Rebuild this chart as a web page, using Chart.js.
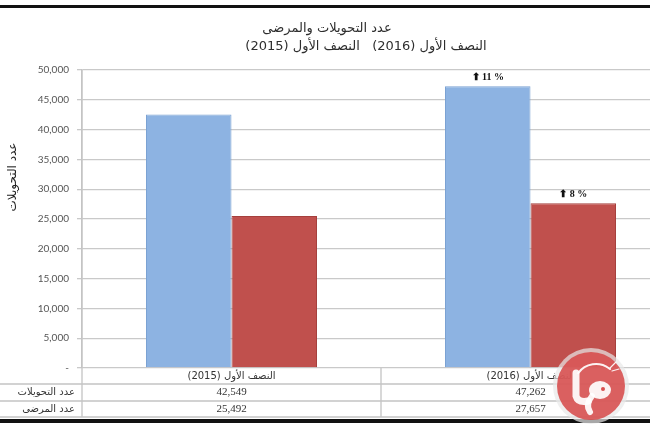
<!DOCTYPE html>
<html>
<head>
<meta charset="utf-8">
<script src="https://cdn.jsdelivr.net/npm/chart.js@4/dist/chart.umd.min.js"></script>
<style>
  html, body { margin: 0; padding: 0; background: #fff; overflow: hidden; }
  #wrap { width: 700px; height: 433px; }
</style>
</head>
<body>
<div id="wrap"><canvas id="myChart"></canvas></div>
<script>
const categories = ["النصف الأول (2015)", "النصف الأول (2016)"];
const seriesNames = ["عدد التحويلات", "عدد المرضى"];
const transfers = [42549, 47262];
const patients = [25492, 27657];
const transferGrowth = ["", "11 %"];
const patientGrowth = ["", "8 %"];
const chartTitle = "عدد التحويلات والمرضى";
const chartSubtitle = "النصف الأول (2016)   النصف الأول (2015)";
const yAxisTitle = "عدد التحويلات";

const arabicFont = '"DejaVu Sans", sans-serif';

// titles, data table, growth marks, frame and logo
const decor = {
  id: "decor",
  beforeDraw(chart) {
    const c = chart.ctx;
    c.save();
    c.fillStyle = "#fff";
    c.fillRect(0, 0, chart.width, chart.height);
    c.restore();
  },
  afterDraw(chart) {
    const c = chart.ctx;
    const area = chart.chartArea;
    const xs = chart.scales.x;
    c.save();

    // titles
    c.direction = "rtl";
    c.textAlign = "center";
    c.textBaseline = "middle";
    c.fillStyle = "#2e2e2e";
    c.font = "13px " + arabicFont;
    c.fillText(chartTitle, 327, 29);
    c.font = "13px " + arabicFont;
    c.fillText(chartSubtitle, 366, 47);

    // y axis title
    c.save();
    c.translate(13, 177);
    c.rotate(-Math.PI / 2);
    c.font = "12px " + arabicFont;
    c.fillStyle = "#222";
    c.fillText(yAxisTitle, 0, 0);
    c.restore();

    // data table
    const rowTop = area.bottom;
    const rows = [rowTop, rowTop + 16, rowTop + 33, rowTop + 49];
    const mid = (xs.getPixelForValue(0) + xs.getPixelForValue(1)) / 2;
    c.strokeStyle = "#c4c4c4";
    c.lineWidth = 1.3;
    c.beginPath();
    c.moveTo(area.left, area.top);
    c.lineTo(area.left, rows[3]);
    c.moveTo(mid, rows[0]);
    c.lineTo(mid, rows[3]);
    for (let i = 1; i < rows.length; i++) {
      c.moveTo(0, rows[i]);
      c.lineTo(chart.width, rows[i]);
    }
    c.stroke();

    c.fillStyle = "#333";
    c.font = "10px " + arabicFont;
    categories.forEach((cat, i) => {
      c.fillText(cat, xs.getPixelForValue(i), (rows[0] + rows[1]) / 2);
    });
    const tableSeries = [transfers, patients];
    tableSeries.forEach((vals, r) => {
      const y = (rows[r + 1] + rows[r + 2]) / 2;
      c.textAlign = "right";
      c.font = "10px " + arabicFont;
      c.fillText(seriesNames[r], area.left - 7, y);
      c.textAlign = "center";
      c.font = '11px "Liberation Serif", serif';
      vals.forEach((v, i) => {
        c.fillText(v.toLocaleString("en-US"), xs.getPixelForValue(i), y);
      });
    });

    // growth marks above bars
    c.direction = "ltr";
    c.fillStyle = "#111";
    [transferGrowth, patientGrowth].forEach((marks, d) => {
      const meta = chart.getDatasetMeta(d);
      marks.forEach((m, i) => {
        if (!m) return;
        const bar = meta.data[i];
        c.font = 'bold 10px "Liberation Serif", serif';
        c.fillText("⬆ " + m, bar.x, bar.y - 9);
      });
    });

    // frame lines
    c.fillStyle = "#111";
    c.fillRect(0, 5, chart.width, 3);
    c.fillRect(0, 419, chart.width, 4);

    // logo watermark
    c.beginPath();
    c.arc(591, 386, 38, 0, Math.PI * 2);
    c.fillStyle = "rgba(232,232,232,0.7)";
    c.fill();
    c.beginPath();
    c.arc(591, 386, 34, 0, Math.PI * 2);
    c.fillStyle = "rgba(214,70,70,0.85)";
    c.fill();
    c.strokeStyle = "rgba(255,255,255,0.92)";
    c.fillStyle = "rgba(255,255,255,0.92)";
    c.lineCap = "round";
    c.lineWidth = 7;
    c.beginPath();
    c.moveTo(576, 373);
    c.lineTo(576, 396);
    c.quadraticCurveTo(578, 403, 588, 401);
    c.stroke();
    c.beginPath();
    c.ellipse(600, 390, 11, 9, 0, 0, Math.PI * 2);
    c.fill();
    c.lineWidth = 6;
    c.beginPath();
    c.moveTo(592, 396);
    c.quadraticCurveTo(585, 405, 590, 412);
    c.stroke();
    c.fillStyle = "rgba(214,70,70,0.95)";
    c.beginPath();
    c.arc(603, 389, 2, 0, Math.PI * 2);
    c.fill();
    c.lineWidth = 2;
    c.beginPath();
    c.arc(596, 386, 22, Math.PI * 1.2, Math.PI * 1.72);
    c.stroke();
    c.lineWidth = 1.2;
    c.beginPath();
    c.moveTo(610, 368);
    c.lineTo(616, 362);
    c.moveTo(612, 371);
    c.lineTo(619, 369);
    c.stroke();

    c.restore();
  },
};

const ctx = document.getElementById("myChart").getContext("2d");
const myChart = new Chart(ctx, {
  type: "bar",
  data: {
    labels: categories,
    datasets: [
      {
        label: seriesNames[0],
        data: transfers,
        backgroundColor: "#8db3e2",
        borderColor: "#7ba2d3",
        borderWidth: 1,
      },
      {
        label: seriesNames[1],
        data: patients,
        backgroundColor: "#c0504d",
        borderColor: "#a5403d",
        borderWidth: 1,
      },
    ],
  },
  options: {
    responsive: true,
    maintainAspectRatio: false,
    animation: false,
    layout: { padding: { top: 70, bottom: 65, left: 0, right: 20 } },
    datasets: { bar: { categoryPercentage: 0.572, barPercentage: 1 } },
    plugins: { legend: { display: false }, tooltip: { enabled: false } },
    scales: {
      x: {
        grid: { display: false },
        border: { display: false },
        ticks: { display: false },
        afterFit: (scale) => { scale.height = 0; },
      },
      y: {
        min: 0,
        max: 50000,
        ticks: {
          stepSize: 5000,
          padding: 8,
          color: "#555",
          font: { family: "Lato", size: 10 },
          callback: (v) => (v === 0 ? "-" : v.toLocaleString("en-US")),
        },
        grid: { color: "#c9c9c9", lineWidth: 1.3, tickLength: 5 },
        border: { display: true, color: "#c4c4c4", width: 1.3 },
        afterFit: (scale) => { scale.width = 82; },
      },
    },
  },
  plugins: [decor],
});
</script>
</body>
</html>
